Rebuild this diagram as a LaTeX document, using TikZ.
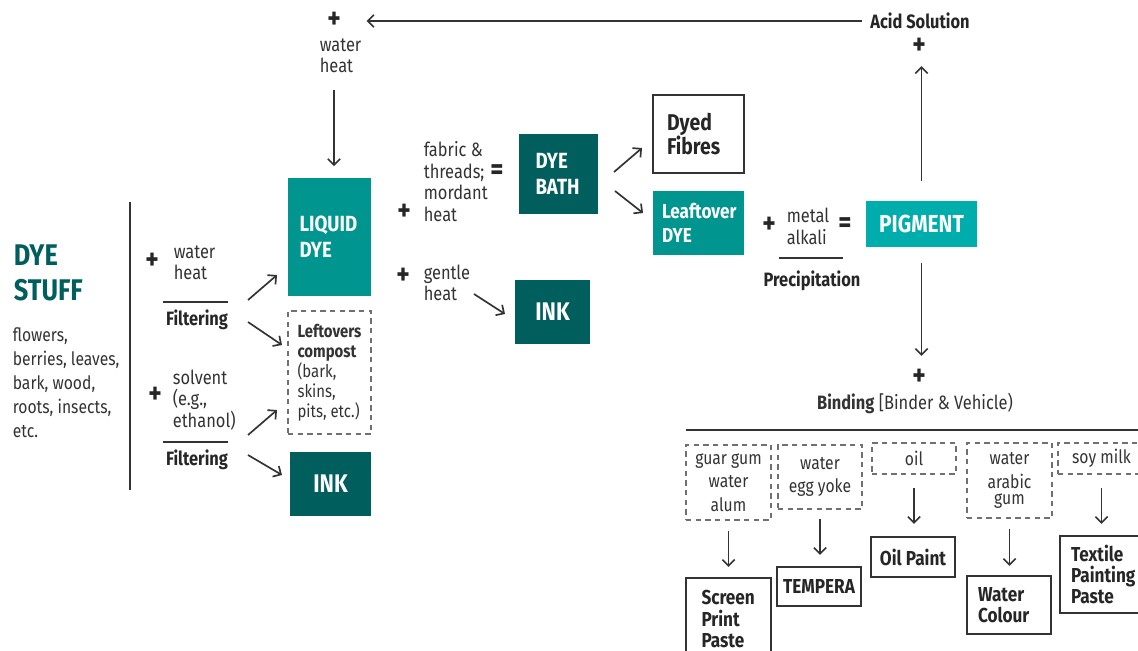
\documentclass[tikz,border=0pt]{standalone}
\usepackage{fontspec}
\setmainfont{Fira Sans}[FakeStretch=0.85]
\usetikzlibrary{arrows.meta,positioning}

\definecolor{dyeteal}{HTML}{00968F}
\definecolor{dyedark}{HTML}{005E5C}
\definecolor{dyebright}{HTML}{00ADAD}
\definecolor{linegray}{HTML}{333333}
\newcommand{\fsz}[2]{\fontsize{#1}{#2}\selectfont}

\tikzset{
every picture/.style={
line width=0.95pt
}}

\begin{document}
\begin{tikzpicture}[x=0.02cm, y=-0.02cm,
arr/.style = {draw=linegray, -{Straight Barb[length=3.5pt,width=7pt]}},
bar/.style = {draw=linegray},
plus/.style = {font=\bfseries\fsz{17}{17}, text=black!85, inner sep=0pt},
note/.style = {font=\fsz{11}{12.2}, text=linegray, align=left, inner sep=0pt},
stage/.style = {font=\bfseries\fsz{11}{12}, text=black!85, inner sep=0pt},
fillbox/.style = {rectangle, inner sep=0pt, text=white, align=left, font=\bfseries\fsz{12.5}{15}},
dashbox/.style = {rectangle, draw=linegray!70, dash pattern=on 3pt off 2.5pt, line width=0.8pt, inner sep=0pt, align=center, text=linegray, font=\fsz{10.5}{13.5}},
resbox/.style = {rectangle, draw=linegray, line width=1.2pt, inner sep=0pt, align=left, text=black!85, font=\bfseries\fsz{11.5}{12}}]

\useasboundingbox (0,0) rectangle (1138,650);

% dye stuff
\node[anchor=west, inner sep=0pt, align=left, text=dyedark, font=\bfseries\fsz{17}{20}] (stuff) at (13,273) {DYE\\STUFF};
\node[anchor=west, inner sep=0pt, align=left, text=linegray, font=\fsz{10.5}{13.7}] (stufflist) at (12,382.5) {flowers,\\berries, leaves,\\bark, wood,\\roots, insects,\\etc.};
\draw[bar] (130,202) -- (130,490);

% extraction
\node[plus] (p1) at (152,261) {+};
\node[note, anchor=west] (water1) at (173,262.5) {water\\heat};
\draw[bar] (163,302) -- (228,302);
\node[stage] (filt1) at (197,320) {Filtering};
\node[plus] (p2) at (155,395) {+};
\node[note, anchor=west] (solvent) at (172,400) {solvent\\(e.g.,\\ethanol)};
\draw[bar] (163,442) -- (228,442);
\node[stage] (filt2) at (197,460) {Filtering};

\node[fillbox, fill=dyeteal, minimum width=1.66cm, minimum height=2.36cm, text width=1.2cm] (liquid) at (329.5,237) {LIQUID\\DYE};
\node[rectangle, draw=linegray!70, dash pattern=on 3pt off 2.5pt, line width=0.8pt, inner sep=0pt, minimum width=1.66cm, minimum height=2.46cm, align=left, text=linegray, font=\fsz{10}{11.4}] (compost) at (329.5,372.5) {\textbf{Leftovers}\\\textbf{compost}\\(bark,\\skins,\\pits, etc.)};
\node[fillbox, fill=dyedark, minimum width=1.62cm, minimum height=1.28cm, align=center, font=\bfseries\fsz{14.5}{15}] (ink1) at (330.5,484) {INK};

\coordinate (s1) at (248,300); \coordinate (e1) at (277,275);
\coordinate (s2) at (248,322); \coordinate (e2) at (282,345);
\coordinate (s3) at (248,435); \coordinate (e3) at (277,410);
\coordinate (s4) at (248,455); \coordinate (e4) at (282,475);
\draw[arr] (s1) -- (e1);
\draw[arr] (s2) -- (e2);
\draw[arr] (s3) -- (e3);
\draw[arr] (s4) -- (e4);

% top loop
\node[plus] (pt) at (334,20) {+};
\node[note, anchor=west] (watertop) at (319,56) {water\\heat};
\coordinate (wdown) at (334,90);
\draw[arr, shorten >=0.22cm] (wdown) -- (wdown |- liquid.north);
\node[stage] (acid) at (920,21) {Acid Solution};
\node[plus] (pa) at (919,46) {+};
\draw[arr, shorten <=0.16cm, shorten >=0.5cm] (acid.west) -- (acid.west -| pt.east);

% dye bath and ink
\node[plus] (pm) at (404,212) {+};
\node[note, anchor=west] (fabric) at (423,181.5) {fabric \&\\threads;\\mordant\\heat};
\node[plus] (eq1) at (497,172) {=};
\node[fillbox, fill=dyedark, minimum width=1.58cm, minimum height=1.6cm, text width=0.92cm] (bath) at (558.5,174) {DYE\\BATH};
\node[plus] (pg) at (403,276) {+};
\node[note, anchor=west] (gentle) at (423,283) {gentle\\heat};
\node[fillbox, fill=dyedark, minimum width=1.5cm, minimum height=1.28cm, align=center, font=\bfseries\fsz{14.5}{15}] (ink2) at (552.5,312) {INK};
\coordinate (s5) at (474,294); \coordinate (e5) at (505,314);
\draw[arr] (s5) -- (e5);

\node[rectangle, draw=linegray, line width=1.2pt, inner sep=0pt, minimum width=1.82cm, minimum height=1.56cm, text width=1.26cm, align=left, text=black!85, font=\bfseries\fsz{13}{14}] (fibres) at (698.5,134) {Dyed\\Fibres};
\node[fillbox, fill=dyeteal, minimum width=1.82cm, minimum height=1.28cm, text width=1.46cm, font=\bfseries\fsz{11.5}{13.6}] (leftdye) at (698.5,223) {Leaftover\\DYE};
\coordinate (s6) at (614,172); \coordinate (e6) at (642,148);
\coordinate (s7) at (615,191); \coordinate (e7) at (643,213);
\draw[arr] (s6) -- (e6);
\draw[arr] (s7) -- (e7);

% pigment
\node[plus] (pp) at (769,225) {+};
\node[note, anchor=west] (metal) at (786,226.5) {metal\\alkali};
\draw[bar] (779,258) -- (843,258);
\node[stage] (precip) at (812,281) {Precipitation};
\node[plus] (eq2) at (845,225) {=};
\node[fillbox, fill=dyebright, minimum width=2.22cm, minimum height=0.92cm, align=center, font=\bfseries\fsz{14}{15}] (pigment) at (921.5,224) {PIGMENT};
\draw[arr, shorten <=0.38cm, shorten >=0.22cm] (pigment.north) -- (pigment.north |- pa.south);

\node[plus] (pb) at (919,377) {+};
\draw[arr, shorten <=0.3cm, shorten >=0.24cm] (pigment.south) -- (pigment.south |- pb.north);
\node[note] (binding) at (915,403) {\textbf{Binding} [Binder \& Vehicle)};
\draw[bar] (686,430) -- (1145,430);

% binders
\node[dashbox, minimum width=1.7cm, minimum height=1.5cm] (b1) at (728.5,482.5) {guar gum\\water\\alum};
\node[dashbox, minimum width=1.68cm, minimum height=1.28cm] (b2) at (820,477) {water\\egg yoke};
\node[dashbox, minimum width=1.68cm, minimum height=0.62cm] (b3) at (914,458.5) {oil};
\node[dashbox, minimum width=1.7cm, minimum height=1.5cm] (b4) at (1009.5,480.5) {water\\arabic\\[-4.5pt]gum};
\node[dashbox, minimum width=1.74cm, minimum height=0.62cm] (b5) at (1101.5,458.5) {soy milk};

% products
\node[resbox, minimum width=1.7cm, minimum height=1.64cm, text width=1.08cm] (r1) at (728.5,619) {Screen\\Print\\Paste};
\node[resbox, minimum width=1.68cm, minimum height=0.78cm, align=center] (r2) at (819,586.5) {TEMPERA};
\node[resbox, minimum width=1.68cm, minimum height=0.8cm, align=center] (r3) at (913,557) {Oil Paint};
\node[resbox, minimum width=1.68cm, minimum height=1.16cm, text width=1.24cm] (r4) at (1009,605) {Water\\Colour};
\node[resbox, minimum width=1.7cm, minimum height=1.54cm, text width=1.26cm] (r5) at (1102.5,574.5) {Textile\\Painting\\Paste};

\draw[arr, shorten <=0.2cm, shorten >=0.2cm] (b1.south) -- (b1.south |- r1.north);
\draw[arr, shorten <=0.18cm, shorten >=0.22cm] (b2.south) -- (b2.south |- r2.north);
\draw[arr, shorten <=0.26cm, shorten >=0.24cm] (b3.south) -- (b3.south |- r3.north);
\draw[arr, shorten <=0.2cm, shorten >=0.18cm] (b4.south) -- (b4.south |- r4.north);
\draw[arr, shorten <=0.26cm, shorten >=0.22cm] (b5.south) -- (b5.south |- r5.north);
\end{tikzpicture}
\end{document}
